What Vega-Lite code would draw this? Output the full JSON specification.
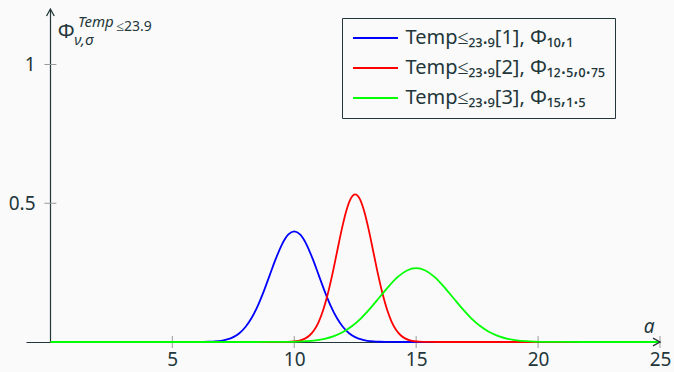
{
  "$schema": "https://vega.github.io/schema/vega-lite/v6.json",
  "width": 634,
  "height": 333,
  "autosize": {"type": "none"},
  "padding": {"left": 26, "top": 9, "right": 14, "bottom": 30},
  "background": "#fafafa",
  "config": {
    "view": {"stroke": null},
    "font": "Noto Sans",
    "numberFormat": "~g",
    "axis": {"grid": false, "domainColor": "#23373b", "domainWidth": 1.2, "ticks": false, "tickSize": 0,
      "labelFontSize": 19, "labelColor": "#23373b", "labelFlush": false, "labelOverlap": false, "labelFont": "Noto Sans"},
    "axisX": {"labelPadding": 8},
    "axisY": {"labelPadding": 15}
  },
  "datasets": {
    "curves": [
      {"k": "1", "a": 0, "p": 0}, {"k": "1", "a": 5, "p": 0}, {"k": "1", "a": 6, "p": 0.0001}, {"k": "1", "a": 6.5, "p": 0.0009},
      {"k": "1", "a": 6.75, "p": 0.002}, {"k": "1", "a": 7, "p": 0.0044}, {"k": "1", "a": 7.25, "p": 0.0091}, {"k": "1", "a": 7.5, "p": 0.0175},
      {"k": "1", "a": 7.75, "p": 0.0317}, {"k": "1", "a": 8, "p": 0.054}, {"k": "1", "a": 8.25, "p": 0.0863}, {"k": "1", "a": 8.5, "p": 0.1295},
      {"k": "1", "a": 8.75, "p": 0.1826}, {"k": "1", "a": 9, "p": 0.242}, {"k": "1", "a": 9.25, "p": 0.3011}, {"k": "1", "a": 9.5, "p": 0.3521},
      {"k": "1", "a": 9.75, "p": 0.3867}, {"k": "1", "a": 10, "p": 0.3989}, {"k": "1", "a": 10.25, "p": 0.3867}, {"k": "1", "a": 10.5, "p": 0.3521},
      {"k": "1", "a": 10.75, "p": 0.3011}, {"k": "1", "a": 11, "p": 0.242}, {"k": "1", "a": 11.25, "p": 0.1826}, {"k": "1", "a": 11.5, "p": 0.1295},
      {"k": "1", "a": 11.75, "p": 0.0863}, {"k": "1", "a": 12, "p": 0.054}, {"k": "1", "a": 12.25, "p": 0.0317}, {"k": "1", "a": 12.5, "p": 0.0175},
      {"k": "1", "a": 12.75, "p": 0.0091}, {"k": "1", "a": 13, "p": 0.0044}, {"k": "1", "a": 13.25, "p": 0.002}, {"k": "1", "a": 13.5, "p": 0.0009},
      {"k": "1", "a": 14, "p": 0.0001}, {"k": "1", "a": 15, "p": 0}, {"k": "1", "a": 20, "p": 0}, {"k": "1", "a": 25, "p": 0},
      {"k": "2", "a": 0, "p": 0}, {"k": "2", "a": 5, "p": 0}, {"k": "2", "a": 9, "p": 0}, {"k": "2", "a": 9.5, "p": 0.0002},
      {"k": "2", "a": 9.875, "p": 0.0012}, {"k": "2", "a": 10.0625, "p": 0.0027}, {"k": "2", "a": 10.25, "p": 0.0059}, {"k": "2", "a": 10.4375, "p": 0.0121},
      {"k": "2", "a": 10.625, "p": 0.0234}, {"k": "2", "a": 10.8125, "p": 0.0423}, {"k": "2", "a": 11, "p": 0.072}, {"k": "2", "a": 11.1875, "p": 0.115},
      {"k": "2", "a": 11.375, "p": 0.1727}, {"k": "2", "a": 11.5625, "p": 0.2435}, {"k": "2", "a": 11.75, "p": 0.3226}, {"k": "2", "a": 11.9375, "p": 0.4015},
      {"k": "2", "a": 12.125, "p": 0.4694}, {"k": "2", "a": 12.3125, "p": 0.5156}, {"k": "2", "a": 12.5, "p": 0.5319}, {"k": "2", "a": 12.6875, "p": 0.5156},
      {"k": "2", "a": 12.875, "p": 0.4694}, {"k": "2", "a": 13.0625, "p": 0.4015}, {"k": "2", "a": 13.25, "p": 0.3226}, {"k": "2", "a": 13.4375, "p": 0.2435},
      {"k": "2", "a": 13.625, "p": 0.1727}, {"k": "2", "a": 13.8125, "p": 0.115}, {"k": "2", "a": 14, "p": 0.072}, {"k": "2", "a": 14.1875, "p": 0.0423},
      {"k": "2", "a": 14.375, "p": 0.0234}, {"k": "2", "a": 14.5625, "p": 0.0121}, {"k": "2", "a": 14.75, "p": 0.0059}, {"k": "2", "a": 14.9375, "p": 0.0027},
      {"k": "2", "a": 15.125, "p": 0.0012}, {"k": "2", "a": 15.5, "p": 0.0002}, {"k": "2", "a": 16, "p": 0}, {"k": "2", "a": 20, "p": 0}, {"k": "2", "a": 25, "p": 0},
      {"k": "3", "a": 0, "p": 0}, {"k": "3", "a": 5, "p": 0}, {"k": "3", "a": 8, "p": 0}, {"k": "3", "a": 9, "p": 0.0001},
      {"k": "3", "a": 9.75, "p": 0.0006}, {"k": "3", "a": 10.125, "p": 0.0014}, {"k": "3", "a": 10.5, "p": 0.003}, {"k": "3", "a": 10.875, "p": 0.0061},
      {"k": "3", "a": 11.25, "p": 0.0117}, {"k": "3", "a": 11.625, "p": 0.0212}, {"k": "3", "a": 12, "p": 0.036}, {"k": "3", "a": 12.375, "p": 0.0575},
      {"k": "3", "a": 12.75, "p": 0.0863}, {"k": "3", "a": 13.125, "p": 0.1218}, {"k": "3", "a": 13.5, "p": 0.1613}, {"k": "3", "a": 13.875, "p": 0.2008},
      {"k": "3", "a": 14.25, "p": 0.2347}, {"k": "3", "a": 14.625, "p": 0.2578}, {"k": "3", "a": 15, "p": 0.266}, {"k": "3", "a": 15.375, "p": 0.2578},
      {"k": "3", "a": 15.75, "p": 0.2347}, {"k": "3", "a": 16.125, "p": 0.2008}, {"k": "3", "a": 16.5, "p": 0.1613}, {"k": "3", "a": 16.875, "p": 0.1218},
      {"k": "3", "a": 17.25, "p": 0.0863}, {"k": "3", "a": 17.625, "p": 0.0575}, {"k": "3", "a": 18, "p": 0.036}, {"k": "3", "a": 18.375, "p": 0.0212},
      {"k": "3", "a": 18.75, "p": 0.0117}, {"k": "3", "a": 19.125, "p": 0.0061}, {"k": "3", "a": 19.5, "p": 0.003}, {"k": "3", "a": 19.875, "p": 0.0014},
      {"k": "3", "a": 20.25, "p": 0.0006}, {"k": "3", "a": 21, "p": 0.0001}, {"k": "3", "a": 22, "p": 0}, {"k": "3", "a": 25, "p": 0}
    ],
    "xticks": [{"t": 5}, {"t": 10}, {"t": 15}, {"t": 20}, {"t": 25}],
    "yticks": [{"t": 0.5}, {"t": 1}],
    "one": [{}]
  },
  "layer": [
    {
      "data": {"name": "xticks"},
      "mark": {"type": "tick", "orient": "vertical", "size": 12, "thickness": 1, "color": "#9a9a9a", "opacity": 1},
      "encoding": {
        "x": {"field": "t", "type": "quantitative", "scale": {"domain": [-1, 25], "nice": false, "zero": false}, "axis": {"values": [5, 10, 15, 20, 25], "title": null}},
        "y": {"datum": 0, "type": "quantitative", "scale": {"domain": [0, 1.2], "nice": false}, "axis": {"values": [0.5, 1], "title": null, "offset": -24}}
      }
    },
    {
      "data": {"name": "yticks"},
      "mark": {"type": "tick", "orient": "horizontal", "size": 12, "thickness": 1, "color": "#9a9a9a", "opacity": 1},
      "encoding": {
        "y": {"field": "t", "type": "quantitative", "scale": {"domain": [0, 1.2], "nice": false}, "axis": {"values": [0.5, 1], "title": null, "offset": -24}},
        "x": {"datum": 0, "type": "quantitative", "scale": {"domain": [-1, 25], "nice": false, "zero": false}, "axis": {"values": [5, 10, 15, 20, 25], "title": null}}
      }
    },
    {
      "data": {"name": "curves"},
      "mark": {"type": "line", "strokeWidth": 1.8, "interpolate": "monotone"},
      "encoding": {
        "x": {"field": "a", "type": "quantitative", "scale": {"domain": [-1, 25], "nice": false, "zero": false}, "axis": {"values": [5, 10, 15, 20, 25], "title": null}},
        "y": {"field": "p", "type": "quantitative", "scale": {"domain": [0, 1.2], "nice": false}, "axis": {"values": [0.5, 1], "title": null, "offset": -24}},
        "color": {"field": "k", "type": "nominal",
          "scale": {"domain": ["1", "2", "3"], "range": ["#0000ff", "#ff0000", "#00ff00"]},
          "legend": {"orient": "none", "legendX": 316, "legendY": 9, "title": null, "symbolType": "M-1,0H4", "symbolSize": 324,
            "symbolStrokeWidth": 2, "labelFontSize": 20, "labelFont": "Noto Sans", "labelColor": "#23373b", "labelLimit": 400, "padding": 10, "rowPadding": 10,
            "labelOffset": 33.5, "strokeColor": "#23373b", "fillColor": "#fafafa",
            "labelExpr": "datum.label == '1' ? 'Temp≤₂₃.₉[1], Φ₁₀,₁' : datum.label == '2' ? 'Temp≤₂₃.₉[2], Φ₁₂.₅,₀.₇₅' : 'Temp≤₂₃.₉[3], Φ₁₅,₁.₅'"}}
      }
    },
    {
      "data": {"name": "one"},
      "mark": {"type": "point", "shape": "M-1,-0.55L0,0L-1,0.55", "size": 196, "filled": false, "stroke": "#23373b", "strokeWidth": 1.3, "opacity": 1},
      "encoding": {
        "x": {"datum": 25, "type": "quantitative", "scale": {"domain": [-1, 25], "nice": false, "zero": false}, "axis": {"values": [5, 10, 15, 20, 25], "title": null}},
        "y": {"datum": 0, "type": "quantitative", "scale": {"domain": [0, 1.2], "nice": false}, "axis": {"values": [0.5, 1], "title": null, "offset": -24}}
      }
    },
    {
      "data": {"name": "one"},
      "mark": {"type": "point", "shape": "M-0.55,1L0,0L0.55,1", "size": 196, "filled": false, "stroke": "#23373b", "strokeWidth": 1.3, "opacity": 1},
      "encoding": {
        "x": {"datum": 0, "type": "quantitative", "scale": {"domain": [-1, 25], "nice": false, "zero": false}, "axis": {"values": [5, 10, 15, 20, 25], "title": null}},
        "y": {"datum": 1.2, "type": "quantitative", "scale": {"domain": [0, 1.2], "nice": false}, "axis": {"values": [0.5, 1], "title": null, "offset": -24}}
      }
    },
    {
      "data": {"name": "one"},
      "mark": {"type": "text", "text": "Φ", "fontSize": 20, "align": "left", "baseline": "alphabetic", "color": "#23373b"},
      "encoding": {
        "x": {"datum": 0.3, "type": "quantitative", "scale": {"domain": [-1, 25], "nice": false, "zero": false}, "axis": {"values": [5, 10, 15, 20, 25], "title": null}},
        "y": {"datum": 1.094, "type": "quantitative", "scale": {"domain": [0, 1.2], "nice": false}, "axis": {"values": [0.5, 1], "title": null, "offset": -24}}
      }
    },
    {
      "data": {"name": "one"},
      "mark": {"type": "text", "text": "Temp", "fontSize": 15, "fontStyle": "italic", "align": "left", "baseline": "alphabetic", "color": "#23373b"},
      "encoding": {
        "x": {"datum": 1.13, "type": "quantitative", "scale": {"domain": [-1, 25], "nice": false, "zero": false}, "axis": {"values": [5, 10, 15, 20, 25], "title": null}},
        "y": {"datum": 1.135, "type": "quantitative", "scale": {"domain": [0, 1.2], "nice": false}, "axis": {"values": [0.5, 1], "title": null, "offset": -24}}
      }
    },
    {
      "data": {"name": "one"},
      "mark": {"type": "text", "text": "≤23.9", "fontSize": 14, "align": "left", "baseline": "alphabetic", "color": "#23373b"},
      "encoding": {
        "x": {"datum": 2.7, "type": "quantitative", "scale": {"domain": [-1, 25], "nice": false, "zero": false}, "axis": {"values": [5, 10, 15, 20, 25], "title": null}},
        "y": {"datum": 1.121, "type": "quantitative", "scale": {"domain": [0, 1.2], "nice": false}, "axis": {"values": [0.5, 1], "title": null, "offset": -24}}
      }
    },
    {
      "data": {"name": "one"},
      "mark": {"type": "text", "text": "ν,σ", "fontSize": 15, "fontStyle": "italic", "align": "left", "baseline": "alphabetic", "color": "#23373b"},
      "encoding": {
        "x": {"datum": 0.98, "type": "quantitative", "scale": {"domain": [-1, 25], "nice": false, "zero": false}, "axis": {"values": [5, 10, 15, 20, 25], "title": null}},
        "y": {"datum": 1.072, "type": "quantitative", "scale": {"domain": [0, 1.2], "nice": false}, "axis": {"values": [0.5, 1], "title": null, "offset": -24}}
      }
    },
    {
      "data": {"name": "one"},
      "mark": {"type": "text", "text": "a", "fontSize": 19, "fontStyle": "italic", "align": "center", "baseline": "alphabetic", "color": "#23373b"},
      "encoding": {
        "x": {"datum": 24.55, "type": "quantitative", "scale": {"domain": [-1, 25], "nice": false, "zero": false}, "axis": {"values": [5, 10, 15, 20, 25], "title": null}},
        "y": {"datum": 0.032, "type": "quantitative", "scale": {"domain": [0, 1.2], "nice": false}, "axis": {"values": [0.5, 1], "title": null, "offset": -24}}
      }
    }
  ]
}
